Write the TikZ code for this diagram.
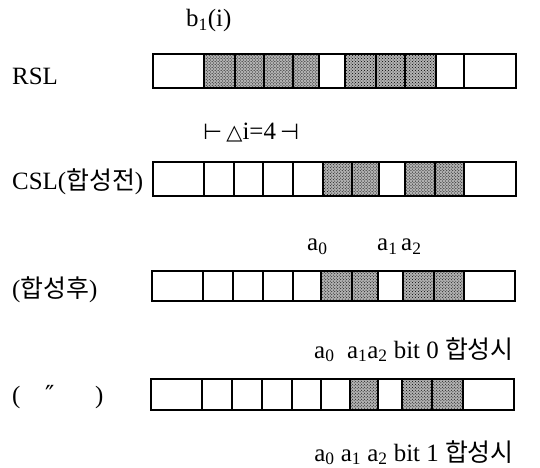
\documentclass[tikz,border=0pt]{standalone}
\usepackage{fontspec}
\setmainfont{Liberation Serif}
\newfontfamily\kr[Scale=1.0]{Noto Sans CJK KR}
\newfontfamily\sym{DejaVu Sans}
\usetikzlibrary{patterns}
\tikzset{
  lbl/.style={font=\fontsize{25}{30}\selectfont, inner sep=0pt, anchor=base west},
  lblr/.style={font=\fontsize{25}{30}\selectfont, inner sep=0pt, anchor=base east},
  cellbox/.style={draw=black, line width=1.5bp},
  shadebox/.style={preaction={fill=black!30}, pattern=crosshatch dots, pattern color=black},
}
\newcommand{\sub}[2]{#1\textsubscript{#2}}
\begin{document}
\begin{tikzpicture}[x=1bp,y=-1bp]
\useasboundingbox (0,0) rectangle (540,468);
% ---- row 1: RSL
\foreach \a/\b in {204/235,235/264,264/293,293/319,345/376,376/405,405/436}
  \path[shadebox] (\a,54) rectangle (\b,88);
\foreach \x in {204,235,264,293,319,345,376,405,436,464}
  \draw[cellbox] (\x,54) -- (\x,88);
\draw[cellbox] (153,54) rectangle (516,88);
% ---- row 2: CSL
\foreach \a/\b in {323/352,352/379,405/435,435/464}
  \path[shadebox] (\a,162) rectangle (\b,196);
\foreach \x in {204,234,263,293,323,352,379,405,435,464}
  \draw[cellbox] (\x,162) -- (\x,196);
\draw[cellbox] (153,162) rectangle (516,196);
% ---- row 3
\foreach \a/\b in {321/352,352/378,403/434,434/464}
  \path[shadebox] (\a,271) rectangle (\b,301);
\foreach \x in {203,233,263,293,321,352,378,403,434,464}
  \draw[cellbox] (\x,271) -- (\x,301);
\draw[cellbox] (152,271) rectangle (515,301);
% ---- row 4
\foreach \a/\b in {350/378,402/432,432/463}
  \path[shadebox] (\a,379) rectangle (\b,410);
\foreach \x in {202,232,262,292,321,350,378,402,432,463}
  \draw[cellbox] (\x,379) -- (\x,410);
\draw[cellbox] (151,379) rectangle (514,410);
% ---- labels
\node[lbl] (b1) at (186,27) {\sub{b}{1}(i)};
\node[lbl] (rsl) at (12,85) {RSL};
\node[lbl] (di) at (203,140) {{\sym\fontsize{22}{24}\selectfont ⊢}\,{\sym\fontsize{21}{24}\selectfont △}i=4\,{\sym\fontsize{22}{24}\selectfont ⊣}};
\node[lbl] (csl) at (12,190) {CSL({\kr 합성전})};
\node[lbl] (a0r) at (307,251) {\sub{a}{0}};
\node[lbl] (a1r) at (377,251) {\sub{a}{1}};
\node[lbl] (a2r) at (401,251) {\sub{a}{2}};
\node[lbl] (after) at (12,297) {({\kr 합성후})};
\node[lbl] (a0s) at (314,358) {\sub{a}{0}};
\node[lblr] (bit0) at (514,358) {\sub{a}{1}\sub{a}{2} bit 0 {\kr 합성시}};
\node[lbl] (lp) at (12,403) {(};
\node[lbl] (dit) at (45,403) {{\sym ″}};
\node[lbl] (rp) at (95,403) {)};
\node[lblr] (bit1) at (514,461) {\sub{a}{0} \sub{a}{1} \sub{a}{2} bit 1 {\kr 합성시}};
\end{tikzpicture}
\end{document}
